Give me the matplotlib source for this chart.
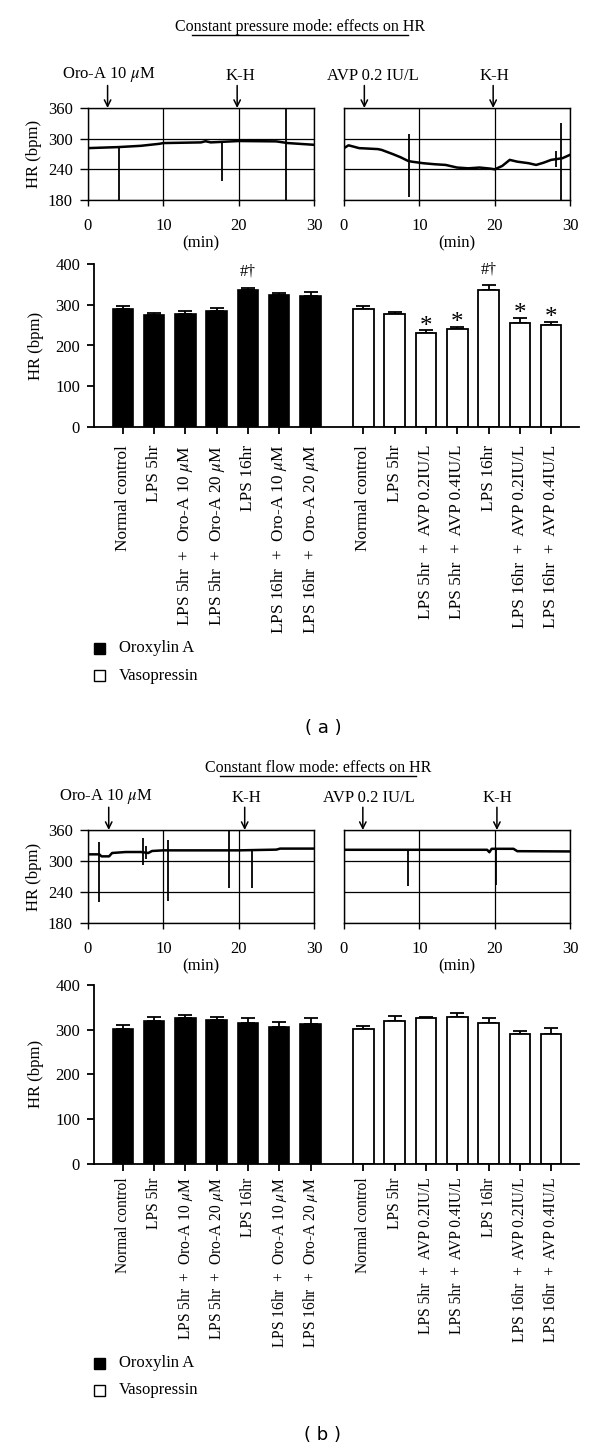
import numpy as np
import matplotlib.pyplot as plt
from matplotlib.patches import Rectangle
from matplotlib.lines import Line2D

plt.rcParams['font.family'] = ['Liberation Serif', 'DejaVu Serif']
plt.rcParams['mathtext.fontset'] = 'stix'
plt.rcParams['font.size'] = 11.5

W, H = 600, 1449

# ---- bar chart data ----
labels_oro = ["Normal control", "LPS 5hr", r"LPS 5hr  +  Oro-A 10 $\mu$M", r"LPS 5hr  +  Oro-A 20 $\mu$M",
              "LPS 16hr", r"LPS 16hr  +  Oro-A 10 $\mu$M", r"LPS 16hr  +  Oro-A 20 $\mu$M"]
labels_avp = ["Normal control", "LPS 5hr", "LPS 5hr  +  AVP 0.2IU/L", "LPS 5hr  +  AVP 0.4IU/L",
              "LPS 16hr", "LPS 16hr  +  AVP 0.2IU/L", "LPS 16hr  +  AVP 0.4IU/L"]

hr_a_oro = [289, 275, 278, 286, 336, 324, 323]
err_a_oro = [8, 4, 7, 7, 6, 6, 10]
hr_a_avp = [290, 277, 232, 241, 337, 255, 251]
err_a_avp = [8, 5, 5, 5, 11, 13, 7]
sig_a_oro = ["", "", "", "", "#†", "", ""]
sig_a_avp = ["", "", "*", "*", "#†", "*", "*"]

hr_b_oro = [302, 319, 326, 322, 314, 307, 312]
err_b_oro = [9, 10, 7, 6, 13, 10, 13]
hr_b_avp = [302, 320, 325, 328, 315, 291, 291]
err_b_avp = [6, 10, 3, 10, 11, 6, 12]

# ---- recordings (time in min, HR in bpm) ----
ta_oro = [0, 4, 7, 9.5, 10, 15, 15.6, 16.3, 20, 25, 26.5, 30]
hra_oro = [281.5, 283.5, 286, 290, 291.4, 292.7, 295, 292.7, 295.4, 294.7, 291.4, 288]
spk_a_oro_t = [4.1, 17.8, 26.3]
spk_a_oro_lo = [180, 218, 180]
spk_a_oro_hi = [282, 292, 360]

ta_avp = [0, 0.6, 1.5, 2, 4.5, 5, 6.5, 7.5, 8.5, 9, 10.5, 12, 13.5, 15, 16.5, 18, 19.5, 20,
          21, 22, 23, 24.5, 25.5, 26.5, 27.5, 29, 30]
hra_avp = [281.5, 287, 283.5, 281.5, 279.6, 278, 269.7, 263.7, 256.5, 255, 252, 250, 248.6, 243.5,
           242, 243.5, 241.3, 240, 246.6, 258.5, 255, 252, 248.6, 253, 258.5, 261.8, 268.4]
spk_a_avp_t = [8.6, 28.1, 28.75]
spk_a_avp_lo = [186, 245, 180]
spk_a_avp_hi = [310, 275, 331]

tb_oro = [0, 1.5, 1.8, 2.8, 3.2, 5, 7, 8, 8.5, 10, 20, 25, 25.5, 30]
hrb_oro = [312.9, 312.9, 309, 309, 315.5, 317.4, 317.4, 315.5, 319.4, 320.6, 320.6, 322, 324, 324]
spk_b_oro_t = [1.46, 7.3, 7.65, 10.6, 18.7, 21.8]
spk_b_oro_lo = [220, 293, 304, 222, 248, 248]
spk_b_oro_hi = [336, 345, 330, 340, 359, 320]

tb_avp = [0, 19, 19.3, 19.6, 22.5, 23, 30]
hrb_avp = [321.7, 321.7, 317, 323.6, 323.6, 319, 318.5]
spk_b_avp_t = [8.5, 20.2]
spk_b_avp_lo = [251.5, 253.4]
spk_b_avp_hi = [320, 323]

ev_a_oro = [(r"Oro-A 10 $\mu$M", 2.6, 2.7), ("K-H", 19.8, 20.2)]
ev_a_avp = [("AVP 0.2 IU/L", 2.7, 3.8), ("K-H", 19.8, 19.9)]
ev_b_oro = [(r"Oro-A 10 $\mu$M", 2.75, 2.4), ("K-H", 20.8, 21.0)]
ev_b_avp = [("AVP 0.2 IU/L", 2.5, 3.3), ("K-H", 20.3, 20.3)]


def box(x0, y0, x1, y1):
    return [x0 / W, 1 - y1 / H, (x1 - x0) / W, (y1 - y0) / H]


def trace_panel(fig, rect, t, hr, st, slo, shi, events, left):
    ax = fig.add_axes(rect)
    ax.plot(t, hr, color='k', lw=1.8)
    ax.vlines(st, slo, shi, color='k', lw=1.3)
    ax.set_xlim(0, 30)
    ax.set_ylim(180, 360)
    ax.set_xticks([0, 10, 20, 30])
    ax.set_yticks([180, 240, 300, 360])
    ax.grid(True, color='k', lw=0.9)
    for s in ax.spines.values():
        s.set_linewidth(1.0)
    ax.tick_params(axis='x', length=4, width=1, pad=9, labelsize=12)
    if left:
        ax.tick_params(axis='y', length=6, width=1, pad=5, labelsize=12)
        ax.set_ylabel("HR (bpm)", labelpad=4, fontsize=12)
    else:
        ax.tick_params(axis='y', length=0, labelleft=False)
    ax.set_xlabel("(min)", labelpad=1, fontsize=12)
    for name, ta, tl in events:
        ax.annotate('', xy=(ta, 360), xytext=(ta, 360 + 44),
                    arrowprops=dict(arrowstyle='->', color='k', lw=1.1, shrinkA=0, shrinkB=0),
                    annotation_clip=False)
        ax.text(tl, 360 + 47, name, ha='center', va='bottom', fontsize=12)
    return ax


def bar_panel(fig, rect, hr_o, er_o, hr_v, er_v, lab_size, lab_pad, sig_o=None, sig_v=None):
    ax = fig.add_axes(rect)
    xo = np.arange(7)
    xv = np.arange(7) + 7.69
    ax.bar(xo, hr_o, width=0.65, color='k', edgecolor='k', lw=1.2, zorder=2)
    ax.bar(xv, hr_v, width=0.66, color='white', edgecolor='k', lw=1.3, zorder=2)
    ax.errorbar(xo, hr_o, yerr=[np.zeros(7), er_o], fmt='none', ecolor='k', elinewidth=1.3,
                capsize=5, capthick=1.3, zorder=1)
    ax.errorbar(xv, hr_v, yerr=[np.zeros(7), er_v], fmt='none', ecolor='k', elinewidth=1.3,
                capsize=5, capthick=1.3, zorder=1)
    for x, h, e, s in zip(list(xo) + list(xv), hr_o + hr_v, er_o + er_v,
                          (sig_o or [""] * 7) + (sig_v or [""] * 7)):
        if s == "*":
            ax.text(x, h + e + 9, s, ha='center', va='center', fontsize=18)
        elif s:
            ax.text(x, h + e + 20, s, ha='center', va='bottom', fontsize=11.5)
    ax.set_xlim(-0.92, 14.58)
    ax.set_ylim(0, 400)
    ax.set_yticks([0, 100, 200, 300, 400])
    ax.set_xticks(list(xo) + list(xv))
    ax.set_xticklabels(labels_oro + labels_avp, rotation=90, fontsize=lab_size)
    ax.spines['top'].set_visible(False)
    ax.spines['right'].set_visible(False)
    ax.spines['left'].set_linewidth(1.3)
    ax.spines['bottom'].set_linewidth(1.3)
    ax.tick_params(axis='x', length=5, width=1.3, pad=lab_pad)
    ax.tick_params(axis='y', length=5, width=1.3, pad=5, labelsize=12)
    ax.set_ylabel("HR (bpm)", labelpad=8, fontsize=12)
    return ax


fig = plt.figure(figsize=(W / 100, H / 100), dpi=100)


def ftext(x, y, s, **kw):
    fig.text(x / W, 1 - y / H, s, **kw)


def fline(x0, x1, y):
    fig.add_artist(Line2D([x0 / W, x1 / W], [1 - y / H, 1 - y / H], color='k', lw=1.0))


def legend(y1, y2):
    for y, fc, name in [(y1, 'k', "Oroxylin A"), (y2, 'white', "Vasopressin")]:
        fig.add_artist(Rectangle(((99 - 5.5) / W, 1 - (y + 5.5) / H), 11 / W, 11 / H,
                                 facecolor=fc, edgecolor='k', lw=1.0))
        ftext(119, y, name, ha='left', va='center', fontsize=12)


# (a) constant pressure
ftext(300, 27, "Constant pressure mode: effects on HR", ha='center', va='center', fontsize=11.5)
fline(192, 408, 35)
trace_panel(fig, box(88, 108, 314, 200), ta_oro, hra_oro, spk_a_oro_t, spk_a_oro_lo, spk_a_oro_hi, ev_a_oro, True)
trace_panel(fig, box(344, 108, 570, 200), ta_avp, hra_avp, spk_a_avp_t, spk_a_avp_lo, spk_a_avp_hi, ev_a_avp, False)
bar_panel(fig, box(94, 264.3, 579, 426.7), hr_a_oro, err_a_oro, hr_a_avp, err_a_avp, 12.4, 8,
          sig_a_oro, sig_a_avp)
legend(648, 676)
ftext(323, 728, "( a )", ha='center', va='center', fontsize=13, family='DejaVu Sans')

# (b) constant flow
ftext(318, 768, "Constant flow mode: effects on HR", ha='center', va='center', fontsize=11.5)
fline(220, 416, 776)
trace_panel(fig, box(88, 830, 314, 923), tb_oro, hrb_oro, spk_b_oro_t, spk_b_oro_lo, spk_b_oro_hi, ev_b_oro, True)
trace_panel(fig, box(344, 830, 570, 923), tb_avp, hrb_avp, spk_b_avp_t, spk_b_avp_lo, spk_b_avp_hi, ev_b_avp, False)
bar_panel(fig, box(94, 985, 579, 1163.5), hr_b_oro, err_b_oro, hr_b_avp, err_b_avp, 11.2, 5)
legend(1363, 1390)
ftext(323, 1435, "( b )", ha='center', va='center', fontsize=13, family='DejaVu Sans')

fig.savefig("out.png", dpi=100)
